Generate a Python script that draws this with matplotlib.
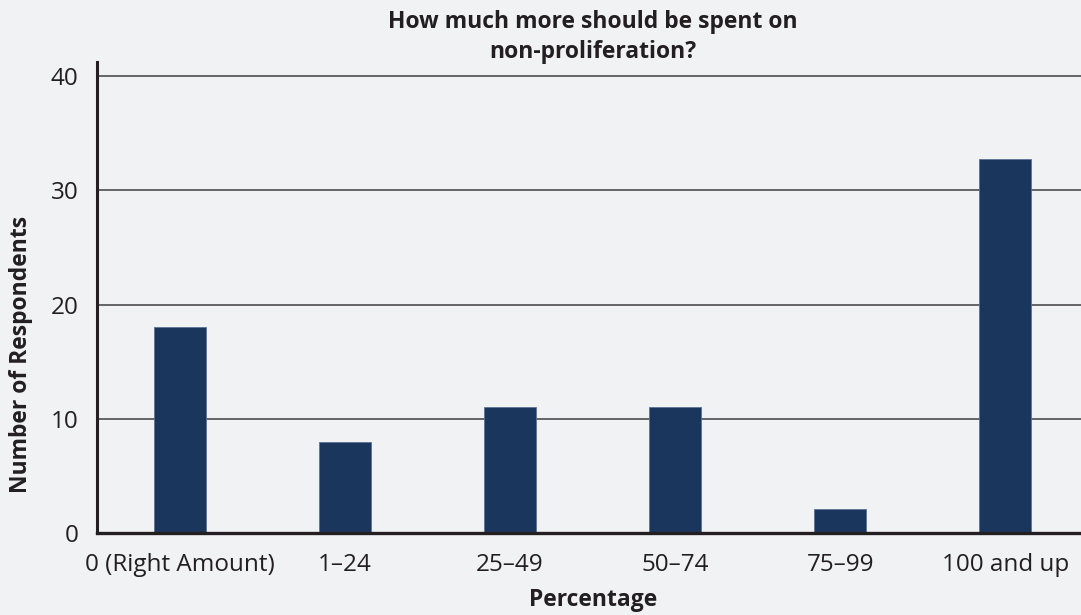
import matplotlib
matplotlib.use("Agg")
import matplotlib.pyplot as plt

categories = ["0 (Right Amount)", "1\u201324", "25\u201349", "50\u201374", "75\u201399", "100 and up"]
respondents = [18, 8, 11, 11, 2.1, 32.7]
y_ticks = [0, 10, 20, 30, 40]

title = "How much more should be spent on\nnon-proliferation?"
xlabel = "Percentage"
ylabel = "Number of Respondents"

BG = "#f1f2f4"
BAR = "#1a365d"
TXT = "#231f20"

plt.rcParams['font.family'] = ['Open Sans', 'DejaVu Sans']

W, H = 1081, 615
fig = plt.figure(figsize=(W / 100, H / 100), dpi=100, facecolor=BG)
left_px, right_px = 97, 1088
bottom_px, top_px = 533.3, 62
ax = fig.add_axes([left_px / W, 1 - bottom_px / H, (right_px - left_px) / W, (bottom_px - top_px) / H])
ax.set_facecolor(BG)

x = list(range(len(categories)))
ax.bar(x, respondents, width=0.315, color=BAR, edgecolor="#5a7396", linewidth=0.6, zorder=3)

ax.set_xlim(-0.5, 5.5)
ax.set_ylim(0, 41.2)
ax.set_yticks(y_ticks)
ax.set_yticklabels([str(v) for v in y_ticks], fontsize=17.5, color=TXT)
ax.set_xticks(x)
ax.set_xticklabels(categories, fontsize=17.5, color=TXT)
ax.tick_params(axis='both', length=0)
ax.tick_params(axis='y', pad=13.5)
ax.tick_params(axis='x', pad=14)

for v in y_ticks[1:]:
    ax.axhline(v, color="#4d4d4f", linewidth=1.2, zorder=1)

for s in ['top', 'right']:
    ax.spines[s].set_visible(False)
ax.spines['left'].set_color(TXT)
ax.spines['left'].set_linewidth(2.2)
ax.spines['bottom'].set_color(TXT)
ax.spines['bottom'].set_linewidth(2.4)
ax.spines['bottom'].set_zorder(4)

fig.text(593 / W, 1 - 37 / H, title, ha='center', va='center', fontsize=16.5,
         fontweight='bold', color=TXT, linespacing=1.32)
fig.text(593 / W, 1 - 600 / H, xlabel, ha='center', va='center', fontsize=16.5,
         fontweight='bold', color=TXT)
fig.text(21 / W, 1 - 354 / H, ylabel, ha='center', va='center', rotation=90,
         fontsize=16.5, fontweight='bold', color=TXT)

fig.savefig("out.png", dpi=100, facecolor=BG)
